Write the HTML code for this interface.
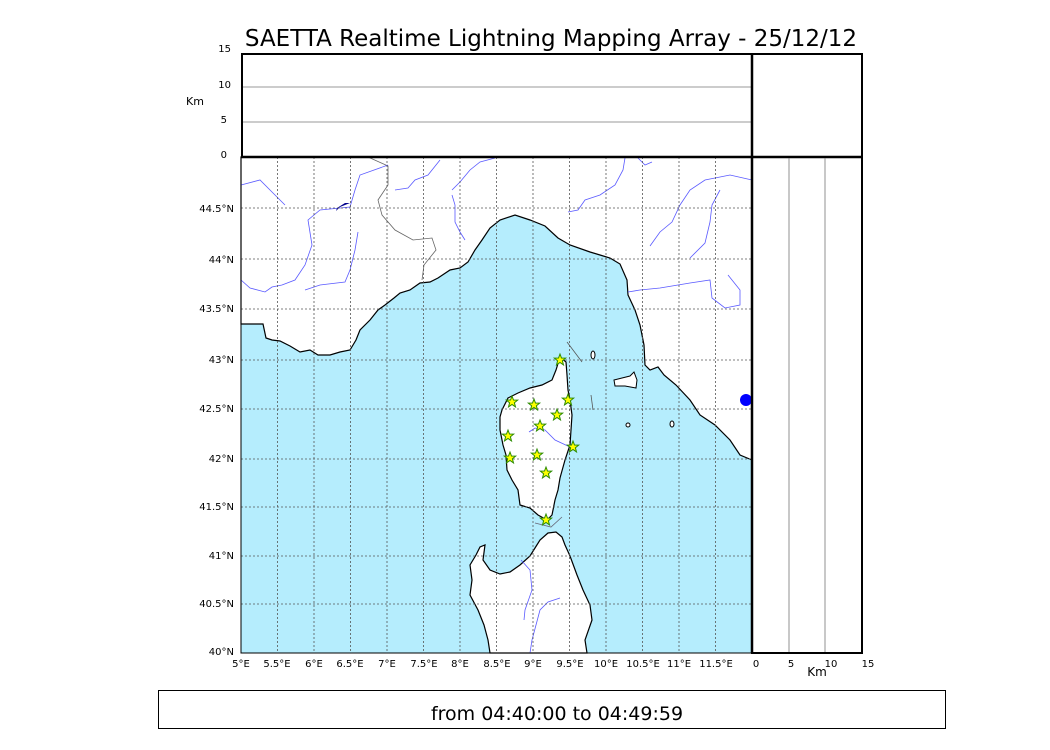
<!DOCTYPE html>
<html><head><style>body{margin:0;background:#fff}svg{display:block}</style></head><body>
<svg width="1050" height="750" xmlns="http://www.w3.org/2000/svg" font-family="DejaVu Sans, Liberation Sans, sans-serif">
<rect width="1050" height="750" fill="#fff"/>
<text x="551" y="46" font-size="23" text-anchor="middle">SAETTA Realtime Lightning Mapping Array - 25/12/12</text>
<rect x="241" y="157" width="511" height="496" fill="#b5edfd"/>
<path d="M241,157 L752,157 L752,460 L740,455 L730,440 L715,425 L700,415 L690,400 L676,385 L664,375 L658,367 L650,370 L645,365 L644,345 L640,325 L635,310 L628,295 L627,280 L620,264 L610,258 L600,255 L590,252 L570,245 L558,238 L545,226 L530,220 L515,215 L500,220 L490,228 L482,240 L475,250 L468,262 L460,268 L450,270 L438,278 L430,282 L420,283 L410,290 L400,293 L394,298 L385,305 L378,310 L370,320 L360,330 L356,340 L350,350 L340,352 L330,355 L318,355 L310,350 L300,352 L290,346 L280,341 L272,340 L266,338 L263,324 L241,324 Z" fill="#fff" stroke="#000" stroke-width="1.2"/>
<path d="M560,357 L566,362 L567,375 L568,390 L570,400 L572,415 L571,430 L570,445 L565,460 L560,478 L558,490 L555,500 L552,515 L547,520 L538,515 L530,508 L520,505 L518,490 L512,480 L507,470 L506,455 L503,445 L500,430 L500,417 L502,410 L508,398 L518,393 L530,388 L542,385 L552,380 L556,370 Z" fill="#fff" stroke="#000" stroke-width="1.2"/>
<path d="M548,533 L556,532 L562,537 L565,545 L570,556 L577,575 L583,590 L590,605 L592,620 L585,640 L587,653 L490,653 L488,640 L484,625 L478,610 L470,595 L472,580 L470,565 L476,555 L480,547 L485,545 L483,560 L490,570 L500,574 L510,572 L520,565 L530,556 L535,548 L540,540 Z" fill="#fff" stroke="#000" stroke-width="1.2"/>
<path d="M614,380 L622,378 L630,376 L634,372 L637,380 L636,388 L625,386 L615,386 Z" fill="#fff" stroke="#000"/>
<ellipse cx="593" cy="355" rx="2" ry="4" fill="#fff" stroke="#000"/>
<ellipse cx="628" cy="425" rx="2" ry="2" fill="#fff" stroke="#000"/>
<ellipse cx="672" cy="424" rx="2" ry="3" fill="#fff" stroke="#000"/>
<path d="M368,157 L388,166 L388,185 L378,200 L382,215 L395,230 L413,240 L432,238 L436,250 L424,265 L422,280" fill="none" stroke="#666" stroke-width="0.8"/>
<g fill="none" stroke="#5a5aff" stroke-width="0.8">
<path d="M241,185 L260,180 L270,190 L285,205"/>
<path d="M388,165 L360,175 L355,190 L350,207 L320,210 L308,220 L312,245 L305,265 L295,280 L282,285 L272,287 L265,292 L250,288 L241,280"/>
<path d="M358,232 L355,250 L350,270 L345,282 L320,285 L305,290"/>
<path d="M395,190 L408,188 L415,180 L428,175 L440,160"/>
<path d="M452,190 L460,182 L470,170 L480,162 L495,158"/>
<path d="M452,195 L455,205 L455,222 L460,232 L465,240"/>
<path d="M568,212 L578,210 L585,200 L600,195 L615,185 L623,170 L625,158"/>
<path d="M637,157 L645,165 L652,162"/>
<path d="M650,246 L660,232 L672,222 L680,205 L690,190 L705,180 L730,175 L752,180"/>
<path d="M690,258 L705,243 L710,222 L712,205 L720,190"/>
<path d="M628,292 L640,290 L660,288 L690,283 L710,280 L712,298 L725,308 L740,305 L740,290 L728,275"/>
<path d="M529,432 L535,428 L545,430 L555,440 L570,447"/>
<path d="M521,560 L530,570 L532,590 L525,610 L524,620"/>
<path d="M560,598 L548,602 L540,610 L536,625 L532,640 L530,653"/>
</g>
<path d="M567,342 L582,362" stroke="#555" fill="none" stroke-width="0.8"/>
<path d="M591,395 L593,410" stroke="#555" fill="none" stroke-width="0.8"/>
<path d="M535,523 L551,527 L562,517" stroke="#667" fill="none" stroke-width="0.8"/>
<path d="M337,208 L345,203 L350,203 L340,207 L336,211Z" fill="#00008b"/>
<g stroke="#555" stroke-width="0.8" stroke-dasharray="2,2">
<path d="M277.5,157V653M314,157V653M350.5,157V653M387,157V653M423.5,157V653M460,157V653M496.5,157V653M533,157V653M569.5,157V653M606,157V653M642.5,157V653M679,157V653M715.5,157V653"/>
<path d="M241,208H752M241,259H752M241,309H752M241,360H752M241,409H752M241,459H752M241,507H752M241,556H752M241,604H752"/>
</g>
<g fill="#ffff00" stroke="#2a8a00" stroke-width="1">
<defs><path id="st" d="M0,-6 L1.5,-2 L5.7,-1.9 L2.4,0.8 L3.5,4.9 L0,2.5 L-3.5,4.9 L-2.4,0.8 L-5.7,-1.9 L-1.5,-2Z"/></defs>
<use href="#st" x="560" y="360"/><use href="#st" x="512" y="402"/><use href="#st" x="534" y="405"/><use href="#st" x="568" y="400"/><use href="#st" x="557" y="415"/><use href="#st" x="540" y="426"/><use href="#st" x="508" y="436"/><use href="#st" x="537" y="455"/><use href="#st" x="573" y="447"/><use href="#st" x="510" y="458"/><use href="#st" x="546" y="473"/><use href="#st" x="546" y="520"/>
</g>
<ellipse cx="746" cy="400" rx="6" ry="6" fill="#0000ff"/>
<rect x="241" y="157" width="511" height="496" fill="none" stroke="#000" stroke-width="1"/>
<line x1="241" y1="87" x2="752" y2="87" stroke="#777" stroke-width="0.8"/>
<line x1="241" y1="122" x2="752" y2="122" stroke="#777" stroke-width="0.8"/>
<rect x="242" y="54" width="620" height="103" fill="none" stroke="#000" stroke-width="2"/>
<line x1="752" y1="54" x2="752" y2="653" stroke="#000" stroke-width="2.5"/>
<line x1="241" y1="157" x2="862" y2="157" stroke="#000" stroke-width="2.5"/>
<line x1="789" y1="157" x2="789" y2="653" stroke="#777" stroke-width="0.8"/>
<line x1="825" y1="157" x2="825" y2="653" stroke="#777" stroke-width="0.8"/>
<rect x="752" y="157" width="110" height="496" fill="none" stroke="#000" stroke-width="2"/>
<g font-size="10" text-anchor="end">
<text x="231" y="52">15</text><text x="231" y="88">10</text><text x="227" y="123">5</text><text x="227" y="158">0</text>
<text x="234" y="212">44.5°N</text><text x="234" y="263">44°N</text><text x="234" y="312">43.5°N</text><text x="234" y="363">43°N</text><text x="234" y="412">42.5°N</text><text x="234" y="462">42°N</text><text x="234" y="510">41.5°N</text><text x="234" y="559">41°N</text><text x="234" y="607">40.5°N</text><text x="234" y="655">40°N</text>
</g>
<text x="186" y="105" font-size="11">Km</text>
<g font-size="10" text-anchor="middle">
<text x="241" y="667">5°E</text><text x="277" y="667">5.5°E</text><text x="314" y="667">6°E</text><text x="350" y="667">6.5°E</text><text x="387" y="667">7°E</text><text x="424" y="667">7.5°E</text><text x="460" y="667">8°E</text><text x="497" y="667">8.5°E</text><text x="533" y="667">9°E</text><text x="570" y="667">9.5°E</text><text x="606" y="667">10°E</text><text x="643" y="667">10.5°E</text><text x="679" y="667">11°E</text><text x="716" y="667">11.5°E</text>
<text x="756" y="667">0</text><text x="791" y="667">5</text><text x="831" y="667">10</text><text x="868" y="667">15</text>
</g>
<text x="817" y="676" font-size="12" text-anchor="middle">Km</text>
<rect x="158.5" y="690.5" width="787" height="38" fill="none" stroke="#000" stroke-width="1"/>
<text x="557" y="720" font-size="19" text-anchor="middle">from 04:40:00 to 04:49:59</text>
</svg>
</body></html>
